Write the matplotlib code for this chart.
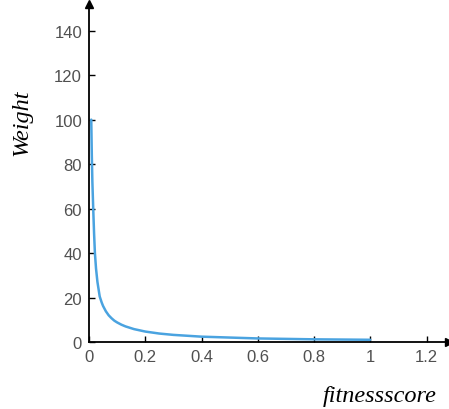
import matplotlib
matplotlib.use("Agg")
import matplotlib.pyplot as plt

# values
fitness = [0.008, 0.01, 0.012, 0.015, 0.018, 0.021, 0.025, 0.03, 0.038,
           0.045, 0.05, 0.06, 0.07, 0.08, 0.09, 0.1, 0.115, 0.13, 0.16, 0.2,
           0.25, 0.3, 0.4, 0.5, 0.6, 0.7, 0.8, 0.9, 1.0]
weight = [100, 84, 72, 60, 49, 40, 33, 27, 20.5,
          17.8, 16.2, 13.8, 12.0, 10.7, 9.6, 8.8, 7.8, 7.0, 5.8, 4.7,
          3.8, 3.2, 2.4, 2.0, 1.6, 1.4, 1.2, 1.1, 1.0]
xticks = [0, 0.2, 0.4, 0.6, 0.8, 1, 1.2]
xticklabels = ["0", "0.2", "0.4", "0.6", "0.8", "1", "1.2"]
yticks = [0, 20, 40, 60, 80, 100, 120, 140]

plt.rcParams["font.family"] = ["Liberation Sans", "DejaVu Sans"]

fig = plt.figure(figsize=(4.49, 4.10), dpi=100)
ax = fig.add_axes([89 / 449, 67 / 410, 360 / 449, 338 / 410])

ax.plot(fitness, weight, color="#4aa3e0", lw=1.8, clip_on=False,
        solid_joinstyle="round", solid_capstyle="round")

ax.set_xlim(0, 1.28)
ax.set_ylim(0, 152)
ax.set_xticks(xticks, xticklabels)
ax.set_yticks(yticks)
ax.tick_params(direction="in", length=4, width=1, labelsize=12,
               labelcolor="#505050", pad=5)

for side in ("top", "right"):
    ax.spines[side].set_visible(False)
for side in ("left", "bottom"):
    ax.spines[side].set_linewidth(1.3)

# arrow heads on the axes
ax.plot(1, 0, ">k", ms=6, transform=ax.get_yaxis_transform(), clip_on=False)
ax.plot(0, 1, "^k", ms=6, transform=ax.get_xaxis_transform(), clip_on=False)

fig.text(22 / 449, 1 - 123 / 410, "Weight", rotation=90, ha="center",
         va="center", fontsize=17.5, style="italic", family="Liberation Serif")
fig.text(380 / 449, 1 - 397 / 410, "fitnessscore", ha="center", va="center",
         fontsize=17.5, style="italic", family="Liberation Serif")

fig.savefig("out.png", dpi=100)
